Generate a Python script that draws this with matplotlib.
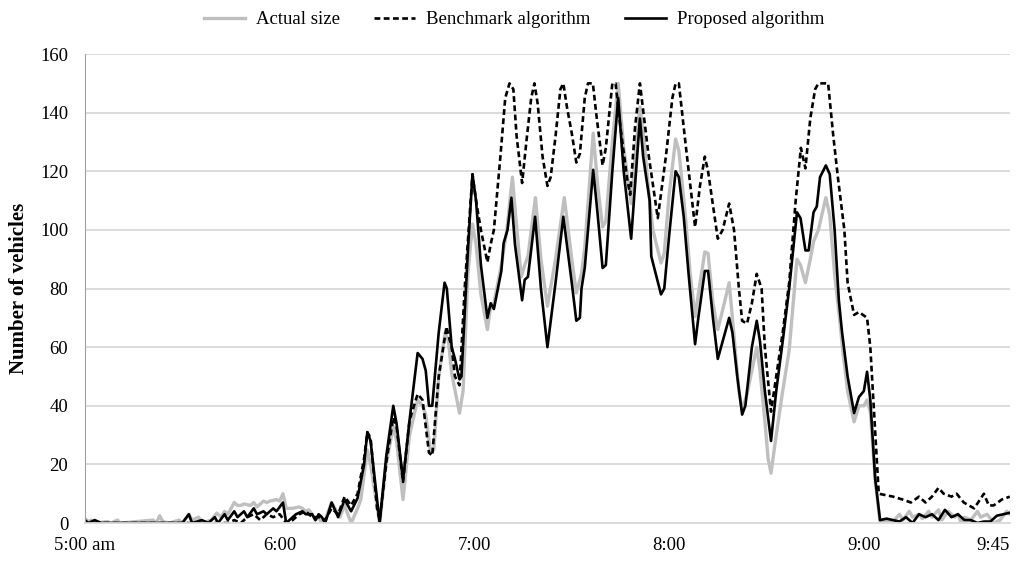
import matplotlib
matplotlib.use("Agg")
import matplotlib.pyplot as plt

# minutes after 5:00 am
actual_t = [0, 1, 2, 3, 7, 8, 10, 11, 21, 22, 23, 24, 26, 29, 30, 32, 33, 35, 36, 39, 40.6, 42, 43, 44,
            46, 47, 48, 49, 51, 52, 53, 55, 56, 57, 59, 60, 61, 62, 64, 66, 67, 68, 69, 70, 71, 72, 73, 74,
            76, 78.5, 80, 82, 84, 85, 87, 88, 90.8, 92.8, 95, 96, 98, 100, 102.5, 104, 105, 106.5, 107.5,
            109, 111, 112, 113, 115.4, 116.5, 118, 119.4, 120.5, 122, 124, 125, 126, 128.3, 130, 131.7,
            132.7, 134.4, 135.5, 136.5, 138.8, 140.5, 142.5, 145, 147.7, 150, 151.4, 153, 154, 156.6,
            158, 159.5, 160.5, 162.5, 164.3, 166, 168.3, 169.5, 171, 172, 174, 175, 177.5, 178.5, 180,
            182, 183, 185, 186.5, 188, 189, 191, 192, 193.5, 195, 197, 198.5, 199.5, 201.5, 202.5, 204,
            205.5, 207, 208, 209.5, 210.5, 211.4, 213, 215, 217, 219.4, 220.5, 222, 223.5, 224.5, 226,
            228.3, 229.5, 231, 232.5, 233.5, 235, 237, 238.5, 240, 241, 242, 243.5, 245, 247, 249, 251,
            252, 254, 255, 257, 258, 260, 261, 263, 264, 266, 268, 269, 270, 271, 273, 275, 276, 278,
            280, 282, 284, 285]
actual_v = [1.5, 0.5, 1, 0, 0.5, 0, 1, 0, 1, 0, 2.5, 0.5, 0, 1, 0, 3, 1, 2, 0, 1, 3.4, 2, 4, 3,
            7, 6, 6, 6.5, 6, 7, 5.5, 7.5, 7, 7.5, 8, 7.5, 10, 5, 5, 5.5, 5, 4, 4.5, 3, 1, 2, 0, 1,
            7, 2, 6, 0, 5, 8, 25, 20, 0, 20, 33, 28, 8, 30, 42, 40, 37, 24, 25,
            50, 65, 62, 51, 37.5, 45, 85, 102, 95, 78, 66, 74, 75, 88, 100, 118,
            105, 84, 88, 91, 111, 90, 74, 90, 111, 90, 78.5, 85, 94, 133,
            115, 101, 103, 130, 150, 128, 109, 125, 142, 133, 110, 100, 88.7, 92, 112,
            131, 127, 105, 85, 70.4, 78, 92.5, 92, 75, 66, 75, 82, 70, 45, 38.6, 44,
            52, 60, 52, 35, 22, 17, 30, 45, 59, 90, 88, 82, 90, 96, 100,
            111, 105, 85, 70, 59, 45, 34.5, 40, 40, 42, 38, 15, 0, 1, 0.5, 3,
            1, 4, 2, 3, 1.5, 4, 2, 4.5, 1, 4, 2, 3, 0, 2, 1, 4, 2, 3,
            0, 1, 4, 3]

bench_t = [0, 44, 46, 48, 50, 52, 54, 56, 58, 60, 62, 64, 66, 68, 70, 72, 74, 76, 78, 80, 82, 84, 86,
           87, 88, 90, 90.8, 93, 95, 96, 98, 100, 102.5, 104, 106, 107, 109, 111.4, 112, 113, 114, 115.4,
           117, 119.4, 120.5, 122, 124, 125, 126, 128, 129.5, 130.8, 132, 133, 134.7, 136, 137.5, 138.5,
           139.5, 141, 142.5, 143.5, 145, 146.5, 147.4, 148.5, 150, 151.4, 152.5, 154, 155, 156.5, 157.5,
           159.5, 160.5, 162.5, 163.5, 165, 167, 168, 169.5, 171, 173.5, 176.5, 179, 181, 182, 183, 185,
           188, 189.5, 191, 192, 195, 196.5, 198.5, 200, 201.5, 202.5, 204, 205.5, 207, 208.5, 209.5,
           211.4, 213, 215, 217, 219, 220.6, 222, 223.5, 225, 226, 229, 230.5, 232, 234, 235, 237,
           238.5, 241, 242, 243.5, 244.6, 249, 252, 254.5, 257, 259, 261, 263, 264.6, 267, 268.6,
           270.8, 274, 277, 278.5, 280, 282.5, 285]
bench_v = [0, 0, 1, 0, 2, 3, 1, 3, 2, 3, 0, 1, 3, 4, 2, 2, 1, 5, 3, 9, 6, 10, 22,
           31, 29, 5, 1, 22, 36, 33, 14, 35, 44, 42, 24, 23, 50, 67, 64, 60, 50, 47,
           80, 119, 110, 100, 89, 95, 100, 125, 145, 150, 148, 132, 116, 130, 145, 150,
           143, 125, 115, 118, 132, 148, 150, 142, 133, 123, 126, 145, 150, 150, 140,
           122, 128, 150, 150, 135, 118, 112, 135, 150, 127, 104, 125, 145, 150, 150, 130,
           101, 115, 125, 120, 97, 100, 109, 100, 80, 69, 68, 75, 85, 80, 60,
           38, 50, 65, 82, 110, 128, 121, 138, 148, 150, 150, 133, 118, 100, 82, 71,
           72, 70, 60, 31, 10, 9, 8, 7, 9, 7, 9, 12, 10, 9, 10,
           7, 5, 10, 6, 6, 8, 9]

prop_t = [0, 1, 3, 5, 30, 32, 33, 36, 38, 40, 41, 43, 44, 46, 47, 49, 50, 52, 53, 55, 56, 58, 59, 61,
          62, 63, 65, 67, 68, 70, 71, 72, 73, 74, 76, 78, 80, 82, 84, 86, 87, 88, 90.8, 92.8, 95, 96,
          98, 100, 102.5, 104, 105, 106, 107, 109, 110.8, 111.5, 113, 114, 115.4, 116, 118, 119.4,
          120.5, 122, 124, 125, 126, 128.3, 129, 130.2, 131.4, 132.5, 134.7, 135.5, 136.5, 138.7,
          140.5, 142.5, 145, 147.4, 150, 151.4, 152.5, 153, 154, 156.6, 158, 159.5, 160.5, 162.5,
          164.3, 166, 168.3, 169.5, 171, 172, 174, 174.5, 177.5, 178.5, 180, 182, 183, 184.5, 186,
          188, 189, 191, 192, 193.5, 195, 196, 198.5, 199.5, 201, 202.5, 203.5, 205.5, 207, 208,
          209.5, 211.4, 213, 215, 217, 219.4, 220.5, 222, 223, 224.5, 225.5, 226.5, 228.3, 229.5,
          231, 232.3, 233.3, 235, 237, 238.5, 240, 241, 242, 243.5, 245, 247, 249, 251, 253, 255,
          257, 259, 261, 263, 265, 267, 269, 271, 273, 275, 277, 279, 281, 283, 285]
prop_v = [1, 0, 1, 0, 0, 3, 0, 1, 0, 2, 0, 3, 1, 4, 2, 4, 2, 5, 3, 4, 3, 5, 4, 7,
          0, 1, 3, 4, 3, 3, 1, 3, 2, 0, 7, 2, 8, 4, 8.5, 20, 31, 28, 0, 22.5, 40, 34,
          14.7, 35, 58, 56, 52, 40, 40, 65, 82, 80, 60, 56, 49, 50, 93, 119,
          110, 88, 70, 75, 73, 86, 95.5, 100, 111, 95, 76, 83, 84, 104.5,
          80, 60, 82, 104.5, 82, 69, 70, 80, 87, 120.5, 105, 87, 88, 120,
          145, 120, 97, 115, 138, 125, 110, 91, 78, 80, 98, 120, 118, 104.5, 85,
          61, 70, 86, 86, 70, 56, 60, 70, 65, 50, 37, 40, 60, 69, 62,
          45, 28, 45, 62, 80, 106, 104, 93, 93, 106, 108, 118, 122, 119,
          100, 76, 65, 50, 37.5, 43, 45, 51.6, 42, 15, 1, 1.5, 1, 0.5, 2, 0,
          3, 2, 3, 1, 4.5, 2, 3, 1, 1, 0, 0.5, 0.5, 2.5, 3, 3.5]

tick_pos = [0, 60, 120, 180, 240, 285]
tick_labels = ["5:00 am", "6:00", "7:00", "8:00", "9:00", "9:45"]
y_ticks = [0, 20, 40, 60, 80, 100, 120, 140, 160]
series_names = ["Actual size", "Benchmark algorithm", "Proposed algorithm"]

plt.rcParams['font.family'] = ['Liberation Serif', 'DejaVu Serif']

fig = plt.figure(figsize=(10.18, 5.63), dpi=100)
ax = fig.add_axes([0.0835, 0.071, 0.9085, 0.833])

ax.plot(actual_t, actual_v, color='#bfbfbf', lw=2.4, label=series_names[0], solid_joinstyle='round')
ax.plot(bench_t, bench_v, color='black', lw=1.9, linestyle=(0, (2.2, 1.3)), label=series_names[1])
ax.plot(prop_t, prop_v, color='black', lw=1.9, label=series_names[2], solid_joinstyle='round')

ax.set_xlim(0, 285)
ax.set_ylim(0, 160)
ax.set_xticks(tick_pos)
ax.set_xticklabels(tick_labels, fontsize=13.5)
ax.get_xticklabels()[-1].set_horizontalalignment('right')
ax.set_yticks(y_ticks)
ax.set_yticklabels([str(v) for v in y_ticks], fontsize=13.5)
ax.tick_params(axis='x', length=0, pad=10)
ax.tick_params(axis='y', length=0, pad=12)
ax.grid(axis='y', color='#d9d9d9', lw=1.3)
ax.set_axisbelow(True)
for s in ['top', 'right']:
    ax.spines[s].set_visible(False)
ax.spines['left'].set_color('#a0a0a0')
ax.spines['bottom'].set_color('#d9d9d9')
ax.spines['bottom'].set_linewidth(1.3)
ax.set_ylabel("Number of vehicles", fontsize=15, fontweight='bold', labelpad=8)

fig.legend(loc='upper center', bbox_to_anchor=(0.505, 1.01), ncol=3, frameon=False,
           fontsize=13.5, handlelength=2.2, columnspacing=1.8, handletextpad=0.6)

fig.savefig("out.png", dpi=100)
